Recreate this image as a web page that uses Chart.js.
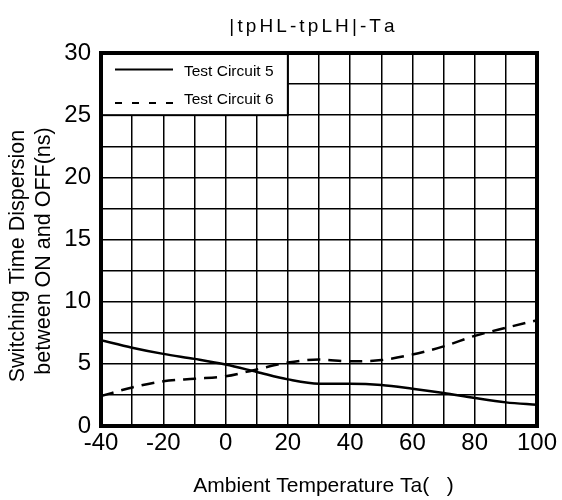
<!DOCTYPE html>
<html>
<head>
<meta charset="utf-8">
<script src="https://cdn.jsdelivr.net/npm/chart.js@4.4.0/dist/chart.umd.min.js"></script>
<style>
  body { margin: 0; background: #fff; }
</style>
</head>
<body>
<canvas id="chart" width="562" height="500"></canvas>
<script>
// data
const temps = [-40, -30, -20, -10, 0, 10, 20, 30, 40, 50, 60, 70, 80, 90, 100];
const circuit5 = [6.9, 6.3, 5.8, 5.4, 4.95, 4.35, 3.75, 3.4, 3.4, 3.3, 3.0, 2.65, 2.25, 1.9, 1.7];
const circuit6 = [2.4, 3.1, 3.6, 3.8, 4.0, 4.55, 5.1, 5.35, 5.2, 5.3, 5.75, 6.4, 7.25, 7.9, 8.5];
const seriesNames = ["Test Circuit 5", "Test Circuit 6"];
const xTickLabels = [-40, -20, 0, 20, 40, 60, 80, 100];
const yTickLabels = [0, 5, 10, 15, 20, 25, 30];
const chartTitle = "|tpHL-tpLH|-Ta";
const yTitleLines = ["Switching Time Dispersion", "between ON and OFF(ns)"];
const xTitle = "Ambient Temperature Ta(   )";

const FONT = "'Liberation Sans', Arial, sans-serif";

const toPoints = (vals) => vals.map((v, i) => ({ x: temps[i], y: v }));

// legend box, frame and the titles are drawn here
const extras = {
  id: "extras",
  afterDatasetsDraw(chart) {
    const { ctx, chartArea: a, scales: { x, y } } = chart;
    ctx.save();

    // legend (white box in the top left corner of the plot)
    const lx = a.left, ly = a.top;
    const lw = x.getPixelForValue(20) - lx;
    const lh = y.getPixelForValue(25) - ly;
    ctx.fillStyle = "#fff";
    ctx.fillRect(lx, ly, lw, lh);
    ctx.strokeStyle = "#000";
    ctx.lineWidth = 2;
    ctx.strokeRect(lx, ly, lw, lh);

    const sampleY = [16.5, 50];
    const textY = [23, 51.3];
    chart.data.datasets.forEach((ds, i) => {
      ctx.setLineDash(ds.borderDash && ds.borderDash.length ? [7, 10] : []);
      ctx.lineWidth = 2;
      ctx.beginPath();
      ctx.moveTo(lx + 14, ly + sampleY[i]);
      ctx.lineTo(lx + 72, ly + sampleY[i]);
      ctx.stroke();
      ctx.setLineDash([]);
      ctx.fillStyle = "#000";
      ctx.font = "15.5px " + FONT;
      ctx.textBaseline = "alphabetic";
      ctx.textAlign = "left";
      ctx.fillText(ds.label, lx + 83, ly + textY[i]);
    });

    // thick frame
    ctx.lineWidth = 4;
    ctx.strokeRect(a.left, a.top, a.right - a.left, a.bottom - a.top);
    ctx.restore();
  },
  afterDraw(chart) {
    const ctx = chart.ctx;
    ctx.save();
    ctx.fillStyle = "#000";
    ctx.textBaseline = "alphabetic";

    // title with wide letter spacing
    ctx.font = "19px " + FONT;
    const ls = 3.1;
    const chars = chartTitle.split("");
    const widths = chars.map(c => ctx.measureText(c).width);
    const total = widths.reduce((s, w) => s + w, 0) + ls * (chars.length - 1);
    let tx = 312 - total / 2;
    ctx.textAlign = "left";
    chars.forEach((c, i) => {
      ctx.fillText(c, tx, 31.5);
      tx += widths[i] + ls;
    });

    // x axis title
    ctx.font = "21px " + FONT;
    ctx.textAlign = "center";
    ctx.fillText(xTitle, 323.5, 491.5);

    // y axis title, two rotated lines
    ctx.font = "21.5px " + FONT;
    const baseX = [24, 50];
    const midY = [256, 251];
    yTitleLines.forEach((t, i) => {
      ctx.save();
      ctx.translate(baseX[i], midY[i]);
      ctx.rotate(-Math.PI / 2);
      ctx.fillText(t, 0, 0);
      ctx.restore();
    });
    ctx.restore();
  }
};

const context = document.getElementById("chart").getContext("2d");
const chart = new Chart(context, {
  type: "line",
  data: {
    datasets: [
      {
        label: seriesNames[0],
        data: toPoints(circuit5),
        borderColor: "#000",
        borderWidth: 2.5,
        pointRadius: 0,
        cubicInterpolationMode: "monotone",
        fill: false
      },
      {
        label: seriesNames[1],
        data: toPoints(circuit6),
        borderColor: "#000",
        borderWidth: 2.5,
        borderDash: [13, 8],
        pointRadius: 0,
        cubicInterpolationMode: "monotone",
        fill: false
      }
    ]
  },
  options: {
    responsive: false,
    animation: false,
    layout: { padding: { top: 53, right: 25, left: 0, bottom: 0 } },
    plugins: {
      legend: { display: false },
      tooltip: { enabled: false }
    },
    scales: {
      x: {
        type: "linear",
        min: -40,
        max: 100,
        afterFit: (s) => { s.height = 74; },
        border: { display: false },
        grid: { color: "#000", lineWidth: 1.5, drawTicks: false },
        ticks: {
          stepSize: 10,
          autoSkip: false,
          maxRotation: 0,
          padding: 3,
          color: "#000",
          font: { family: FONT, size: 24 },
          callback: (v) => xTickLabels.includes(v) ? String(v) : ""
        }
      },
      y: {
        min: 0,
        max: 30,
        afterFit: (s) => { s.width = 101; },
        border: { display: false },
        grid: { color: "#000", lineWidth: 1.5, drawTicks: false },
        ticks: {
          stepSize: 2.5,
          autoSkip: false,
          padding: 10,
          color: "#000",
          font: { family: FONT, size: 24 },
          callback: (v) => yTickLabels.includes(v) ? String(v) : ""
        }
      }
    }
  },
  plugins: [extras]
});
</script>
</body>
</html>
